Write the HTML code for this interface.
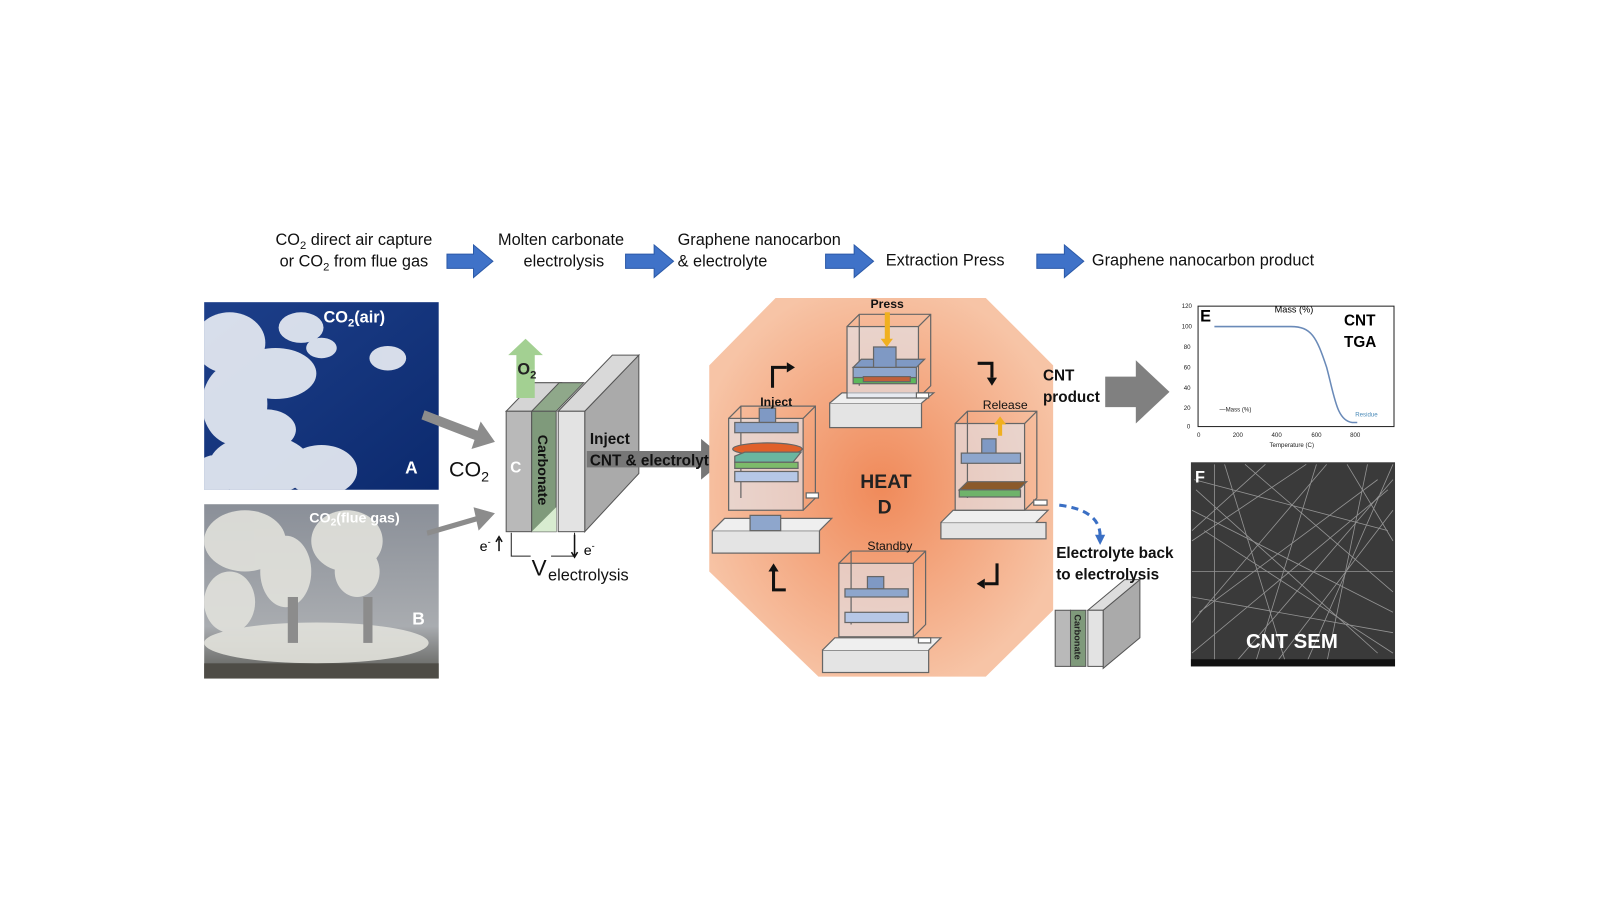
<!DOCTYPE html>
<html><head><meta charset="utf-8"><style>
html,body{margin:0;padding:0;background:#fff;width:1600px;height:900px;overflow:hidden}
svg{display:block}
text{font-family:"Liberation Sans",Arial,sans-serif}
</style></head><body>
<svg width="1600" height="900" viewBox="0 0 1600 900" xmlns="http://www.w3.org/2000/svg">
<defs>
<radialGradient id="oct" cx="50%" cy="50%" r="55%"><stop offset="0" stop-color="#f08a5a"/><stop offset="1" stop-color="#f7c4a6"/></radialGradient>
<linearGradient id="sky" x1="0" y1="0" x2="1" y2="1"><stop offset="0" stop-color="#1d3f8a"/><stop offset="1" stop-color="#0c2a6e"/></linearGradient>
<linearGradient id="flue" x1="0" y1="0" x2="0" y2="1"><stop offset="0" stop-color="#8a8f98"/><stop offset="0.7" stop-color="#a9acb0"/><stop offset="1" stop-color="#5a5a55"/></linearGradient>
</defs>
<g transform="scale(1.0205)">
<!-- header text -->
<g font-size="16" fill="#111">
<text x="270" y="240">CO<tspan font-size="11" dy="4">2</tspan><tspan dy="-4"> direct air capture</tspan></text>
<text x="274" y="261">or CO<tspan font-size="11" dy="4">2</tspan><tspan dy="-4"> from flue gas</tspan></text>
<text x="488" y="240">Molten carbonate</text>
<text x="513" y="261">electrolysis</text>
<text x="664" y="240">Graphene nanocarbon</text>
<text x="664" y="261">&amp; electrolyte</text>
<text x="868" y="260">Extraction Press</text>
<text x="1070" y="260">Graphene nanocarbon product</text>
</g>
<g fill="#3f72c8" stroke="#2c5aa8" stroke-width="1">
<path d="M438,249 h26 v-9 l19,16 l-19,16 v-9 h-26z"/>
<path d="M613,249 h28 v-9 l19,16 l-19,16 v-9 h-28z"/>
<path d="M809,249 h28 v-9 l19,16 l-19,16 v-9 h-28z"/>
<path d="M1016,249 h27 v-9 l19,16 l-19,16 v-9 h-27z"/>
</g>

<!-- photo A -->
<svg x="200" y="296" width="230" height="184" viewBox="0 0 230 184">
<rect width="230" height="184" fill="url(#sky)"/>
<g fill="#e8ecf3" opacity="0.92">
<ellipse cx="25" cy="40" rx="35" ry="30"/><ellipse cx="70" cy="70" rx="40" ry="25"/><ellipse cx="30" cy="100" rx="32" ry="40"/>
<ellipse cx="95" cy="25" rx="22" ry="15"/><ellipse cx="115" cy="45" rx="15" ry="10"/>
<ellipse cx="55" cy="160" rx="50" ry="30"/><ellipse cx="115" cy="165" rx="35" ry="25"/><ellipse cx="10" cy="170" rx="20" ry="20"/>
<ellipse cx="180" cy="55" rx="18" ry="12"/><ellipse cx="60" cy="125" rx="30" ry="20"/>
</g>
</svg>
<text x="317" y="316" font-size="16" font-weight="bold" fill="#fff">CO<tspan font-size="11" dy="4">2</tspan><tspan dy="-4">(air)</tspan></text>
<text x="397" y="464" font-size="17" font-weight="bold" fill="#fff">A</text>

<!-- photo B -->
<svg x="200" y="494" width="230" height="171" viewBox="0 0 230 171">
<rect width="230" height="171" fill="url(#flue)"/>
<g fill="#e2e2dc" opacity="0.9">
<ellipse cx="40" cy="36" rx="40" ry="30"/><ellipse cx="80" cy="66" rx="25" ry="35"/><ellipse cx="140" cy="36" rx="35" ry="30"/>
<ellipse cx="150" cy="66" rx="22" ry="25"/><ellipse cx="25" cy="96" rx="25" ry="30"/><ellipse cx="110" cy="136" rx="110" ry="20"/>
</g>
<rect x="82" y="91" width="10" height="45" fill="#8c8c8c"/><rect x="156" y="91" width="9" height="45" fill="#8c8c8c"/>
<rect x="0" y="156" width="230" height="15" fill="#4e4c46"/>
</svg>
<text x="303" y="512" font-size="14" font-weight="bold" fill="#fff">CO<tspan font-size="10" dy="3">2</tspan><tspan dy="-3">(flue gas)</tspan></text>
<text x="404" y="612" font-size="17" font-weight="bold" fill="#fff">B</text>

<!-- gray arrows into cell -->
<g fill="#8c8c8c">
<path d="M416,402 l52,20 l3,-9 l14,20 l-23,7 l3,-9 l-52,-20z"/>
<path d="M418,520 l48,-14 l-2,-9 l21,6 l-16,17 l-2,-9 l-48,14z"/>
</g>
<text x="440" y="467" font-size="21" fill="#111">CO<tspan font-size="14" dy="5">2</tspan></text>

<!-- electrolysis cell -->
<path d="M496,403 l27,-28 h27 l-27,28z" fill="#d5d5d5" stroke="#555"/>
<path d="M521,403 l27,-28 h24 l-27,28z" fill="#8fa88a" stroke="#555"/>
<path d="M547,403 l27,-28 h26 l-27,28z" fill="#e0e0e0" stroke="#555"/>
<path d="M573,403 l53,-55 v116 l-53,57z" fill="#aaa" stroke="#555"/>
<path d="M547,403 l53,-55 h26 l-53,55z" fill="#d9d9d9" stroke="#555"/>
<rect x="496" y="403" width="25" height="118" fill="#b9b9b9" stroke="#555"/>
<rect x="521" y="403" width="24" height="118" fill="#7f9a7b" stroke="#555"/>
<path d="M521,521 l24,-24 v24z" fill="#d8ecd0"/>
<rect x="547" y="403" width="26" height="118" fill="#e3e3e3" stroke="#555"/>
<path d="M498,362 h8 v-14 h-8 l17,-16 l17,16 h-8 v14 h8z" fill="#a3d092"/>
<path d="M506,362 v28 h18 v-28z" fill="#a3d092"/>
<text x="507" y="367" font-size="16" font-weight="bold" font-family="Liberation Serif,serif" fill="#222">O<tspan font-size="11" dy="4">2</tspan></text>
<text x="500" y="463" font-size="15" font-weight="bold" fill="#fff">C</text>
<text transform="translate(527,426) rotate(90)" font-size="14" font-weight="bold" fill="#111">Carbonate</text>
<path d="M575,442 h112 v-12 l24,20 l-24,20 v-12 h-112z" fill="#777"/>
<text x="578" y="435" font-size="15" font-weight="bold" fill="#111">Inject</text>
<text x="578" y="456" font-size="15" font-weight="bold" fill="#111">CNT &amp; electrolyte</text>
<path d="M501,522 v23 h62 v-23" fill="none" stroke="#222" stroke-width="1"/>
<path d="M489,540 v-12 M486,531 l3,-5 l3,5" stroke="#111" fill="none" stroke-width="1.5"/>
<path d="M563,524 v20 M560,541 l3,5 l3,-5" stroke="#111" fill="none" stroke-width="1.5"/>
<text x="470" y="540" font-size="14" font-family="Liberation Serif,serif">e<tspan font-size="9" dy="-6">-</tspan></text>
<text x="572" y="544" font-size="14" font-family="Liberation Serif,serif">e<tspan font-size="9" dy="-6">-</tspan></text>
<rect x="520" y="540" width="20" height="14" fill="#fff"/>
<text x="521" y="564" font-size="22" fill="#111">V</text>
<text x="537" y="569" font-size="16" fill="#111">electrolysis</text>

<!-- octagon -->
<path d="M760,292 H966 L1032,358 V598 L966,663 H802 L695,560 V358z" fill="url(#oct)"/>
<text x="843" y="478" font-size="19" font-weight="bold" fill="#222">HEAT</text>
<text x="860" y="503" font-size="19" font-weight="bold" fill="#222">D</text>

<!-- cycle arrows -->
<g fill="none" stroke="#111" stroke-width="3">
<path d="M757,380 v-20 h14"/><path d="M958,356 h14 v14"/><path d="M977,552 v20 h-12"/><path d="M770,578 h-12 v-18"/>
</g>
<g fill="#111"><path d="M771,355 l8,5 l-8,5z"/><path d="M967,370 l5,8 l5,-8z"/><path d="M965,567 l-8,5 l8,5z"/><path d="M753,560 l5,-8 l5,8z"/></g>

<!-- Press (top) -->
<g stroke="#666" stroke-width="1.2">
<rect x="813" y="395" width="90" height="24" fill="#e4e4e4"/><path d="M813,395 l12,-10 h90 l-12,10" fill="#efefef"/>
<rect x="830" y="320" width="70" height="70" fill="rgba(225,230,240,0.6)"/>
<path d="M830,320 l12,-12 h70 v70 l-12,12 M842,308 v70 M900,320 l12,-12" fill="none"/>
<path d="M836,360 h62 l8,-8 h-62z" fill="#7f99c4"/><rect x="836" y="360" width="62" height="10" fill="#8ea6cc"/>
<rect x="856" y="340" width="22" height="20" fill="#7f99c4"/>
<rect x="836" y="370" width="62" height="6" fill="#5cb85c"/><path d="M846,369 h46 v5 h-46z" fill="#c0603a"/>
<rect x="898" y="385" width="12" height="5" fill="#fff"/>
</g>
<rect x="867" y="306" width="5" height="28" fill="#f0b020"/><path d="M863,332 l6,8 l6,-8z" fill="#f0b020"/>
<text x="853" y="302" font-size="12" font-weight="bold" fill="#111">Press</text>
<!-- Inject (left) -->
<g stroke="#666" stroke-width="1.2">
<rect x="698" y="520" width="105" height="22" fill="#e4e4e4"/><path d="M698,520 l12,-12 h105 l-12,12" fill="#efefef"/>
<rect x="714" y="410" width="73" height="90" fill="rgba(225,230,240,0.6)"/>
<path d="M714,410 l12,-12 h73 v90 l-12,12 M726,398 v90 M787,410 l12,-12" fill="none"/>
<rect x="744" y="400" width="16" height="14" fill="#7f99c4"/><rect x="720" y="414" width="62" height="10" fill="#8ea6cc"/>
<ellipse cx="752" cy="440" rx="34" ry="6" fill="#e0602a"/>
<path d="M720,447 l10,-4 h55 l-8,10 h-57z" fill="#6ab6a0"/><rect x="720" y="453" width="62" height="6" fill="#7dbb6a"/>
<rect x="720" y="462" width="62" height="10" fill="#b6c7e6"/>
<path d="M735,505 h30 v15 h-30z" fill="#8ea6cc"/>
<rect x="790" y="483" width="12" height="5" fill="#fff"/>
</g>
<text x="745" y="398" font-size="12" font-weight="bold" fill="#111">Inject</text>
<!-- Release (right) -->
<g stroke="#666" stroke-width="1.2">
<rect x="922" y="512" width="103" height="16" fill="#e4e4e4"/><path d="M922,512 l12,-12 h93 l-12,12" fill="#efefef"/>
<rect x="936" y="415" width="68" height="85" fill="rgba(225,230,240,0.6)"/>
<path d="M936,415 l12,-12 h68 v85 l-12,12 M948,403 v85 M1004,415 l12,-12" fill="none"/>
<rect x="962" y="430" width="14" height="14" fill="#7f99c4"/><rect x="942" y="444" width="58" height="10" fill="#8ea6cc"/>
<path d="M940,480 l8,-8 h58 l-8,8z" fill="#8b5a2b"/><rect x="940" y="480" width="60" height="7" fill="#6fb36a"/>
<rect x="1013" y="490" width="13" height="5" fill="#fff"/>
</g>
<rect x="978" y="413" width="4" height="14" fill="#f0b020"/><path d="M974,416 l6,-8 l6,8z" fill="#f0b020"/>
<text x="963" y="401" font-size="12" fill="#111">Release</text>
<!-- Standby (bottom) -->
<g stroke="#666" stroke-width="1.2">
<rect x="806" y="637" width="104" height="22" fill="#e4e4e4"/><path d="M806,637 l12,-12 h104 l-12,12" fill="#efefef"/>
<rect x="822" y="552" width="73" height="72" fill="rgba(225,230,240,0.6)"/>
<path d="M822,552 l12,-12 h73 v72 l-12,12 M834,540 v72 M895,552 l12,-12" fill="none"/>
<rect x="850" y="565" width="16" height="12" fill="#7f99c4"/><rect x="828" y="577" width="62" height="8" fill="#8ea6cc"/>
<rect x="828" y="600" width="62" height="10" fill="#b6c7e6"/>
<rect x="900" y="625" width="12" height="5" fill="#fff"/>
</g>
<text x="850" y="539" font-size="12" fill="#111">Standby</text>

<!-- CNT product arrow -->
<text x="1022" y="373" font-size="15" font-weight="bold" fill="#111">CNT</text>
<text x="1022" y="394" font-size="15" font-weight="bold" fill="#111">product</text>
<path d="M1083,369 h30 v-16 l33,31 l-33,31 v-16 h-30z" fill="#808080"/>

<!-- dashed blue -->
<path d="M1038,495 q40,5 40,30" fill="none" stroke="#3a6fc4" stroke-width="3" stroke-dasharray="7,5"/>
<path d="M1073,524 l5,10 l5,-10z" fill="#3a6fc4"/>
<!-- small cell -->
<path d="M1081,598 l36,-30 v57 l-36,30z" fill="#aaa" stroke="#555"/>
<path d="M1066,598 l36,-30 h15 l-36,30z" fill="#ddd" stroke="#555"/>
<rect x="1034" y="598" width="15" height="55" fill="#b9b9b9" stroke="#555"/>
<rect x="1049" y="598" width="15" height="55" fill="#7f9a7b" stroke="#555"/>
<rect x="1066" y="598" width="15" height="55" fill="#e3e3e3" stroke="#555"/>
<text transform="translate(1053,602) rotate(90)" font-size="9" font-weight="bold" fill="#222">Carbonate</text>
<text x="1035" y="547" font-size="15" font-weight="bold" fill="#111">Electrolyte back</text>
<text x="1035" y="568" font-size="15" font-weight="bold" fill="#111">to electrolysis</text>

<!-- TGA chart -->
<rect x="1174" y="300" width="192" height="118" fill="#fff" stroke="#222"/>
<path d="M1190,320 H1265 C1285,320 1290,330 1300,360 C1308,390 1310,412 1325,414 H1330" fill="none" stroke="#6a8ab8" stroke-width="1.5"/>
<g font-size="6" font-family="Liberation Serif,serif" fill="#222">
<text x="1158" y="302">120</text><text x="1158" y="322">100</text><text x="1160" y="342">80</text><text x="1160" y="362">60</text><text x="1160" y="382">40</text><text x="1160" y="402">20</text><text x="1163" y="420">0</text>
<text x="1173" y="428">0</text><text x="1208" y="428">200</text><text x="1246" y="428">400</text><text x="1285" y="428">600</text><text x="1323" y="428">800</text>
<text x="1244" y="438">Temperature (C)</text>
<text x="1195" y="403">—Mass (%)</text>
<text x="1328" y="408" fill="#4a8ab8">Residue</text>
</g>
<text x="1249" y="306" font-size="9" font-family="Liberation Serif,serif">Mass (%)</text>
<text x="1176" y="315" font-size="16" font-weight="bold">E</text>
<text x="1317" y="319" font-size="15" font-weight="bold">CNT</text>
<text x="1317" y="340" font-size="15" font-weight="bold">TGA</text>

<!-- SEM -->
<rect x="1167" y="453" width="200" height="200" fill="#3a3a3a"/>
<g stroke="#cfcfcf" stroke-width="0.8" opacity="0.6" fill="none">
<path d="M1170,470 L1360,520 M1175,600 L1350,470 M1180,520 L1365,640 M1200,455 L1260,650 M1290,455 L1230,650 M1340,455 L1300,650 M1168,560 L1365,560 M1168,500 L1365,600 M1168,640 L1360,480 M1220,455 L1365,580 M1168,610 L1300,455 M1250,650 L1365,500"/>
<path d="M1172,480 L1350,640 M1190,455 L1190,650 M1320,455 L1365,530 M1168,530 L1280,455 M1210,650 L1365,470 M1168,585 L1365,620 M1240,455 L1168,520 M1365,455 L1280,650"/>
</g>
<rect x="1167" y="646" width="200" height="7" fill="#111"/>
<text x="1171" y="473" font-size="16" font-weight="bold" fill="#fff">F</text>
<text x="1221" y="635" font-size="20" font-weight="bold" fill="#fff">CNT SEM</text>
</g>
</svg>
</body></html>
